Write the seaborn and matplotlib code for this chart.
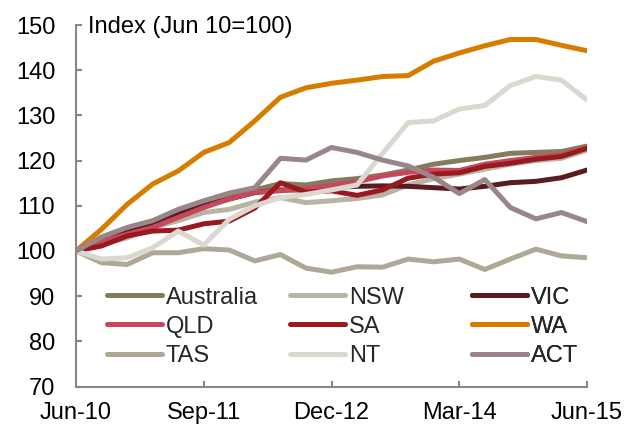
import pandas as pd
import matplotlib
matplotlib.use('Agg')
import matplotlib.pyplot as plt
import seaborn as sns

# Quarterly index values, Jun-10 = 100
quarters = ['Jun-10', 'Sep-10', 'Dec-10', 'Mar-11', 'Jun-11', 'Sep-11', 'Dec-11',
            'Mar-12', 'Jun-12', 'Sep-12', 'Dec-12', 'Mar-13', 'Jun-13', 'Sep-13',
            'Dec-13', 'Mar-14', 'Jun-14', 'Sep-14', 'Dec-14', 'Mar-15', 'Jun-15']
tick_labels = ['Jun-10', 'Sep-11', 'Dec-12', 'Mar-14', 'Jun-15']

australia = [100, 102.6, 104.4, 106.3, 108.5, 110.3, 111.8, 113.5, 114.9, 114.6, 115.5,
             116.0, 116.8, 117.9, 119.2, 120.0, 120.7, 121.6, 121.8, 122.0, 123.2]
nsw = [100, 101.5, 102.9, 105.2, 106.7, 108.5, 109.2, 110.8, 111.8, 110.7, 111.1,
       111.6, 112.4, 114.6, 116.0, 117.0, 118.1, 119.2, 120.0, 120.5, 122.3]
vic = [100, 102.2, 104.1, 105.9, 108.1, 110.0, 111.5, 112.9, 113.5, 113.5, 114.0,
       114.3, 114.4, 114.3, 114.0, 113.7, 114.3, 115.1, 115.4, 116.2, 117.9]
qld = [100, 102.1, 103.7, 105.2, 107.4, 109.6, 111.5, 113.0, 113.3, 113.8, 114.5,
       115.3, 116.6, 117.4, 117.9, 117.8, 119.2, 120.0, 120.7, 121.2, 122.9]
sa = [100, 101.1, 103.3, 104.4, 104.6, 106.0, 106.6, 109.5, 115.1, 113.0, 113.3,
      112.3, 113.5, 116.1, 117.0, 117.3, 118.7, 119.4, 120.3, 120.9, 122.7]
wa = [100, 104.8, 110.3, 114.8, 117.7, 121.8, 124.0, 128.8, 134.0, 136.1, 137.1,
      137.8, 138.6, 138.8, 142.0, 143.8, 145.4, 146.8, 146.8, 145.5, 144.3]
tas = [100, 97.4, 97.0, 99.6, 99.6, 100.5, 100.2, 97.8, 99.2, 96.2, 95.3,
       96.5, 96.4, 98.2, 97.6, 98.2, 95.9, 98.2, 100.4, 98.9, 98.5]
nt = [100, 98.2, 98.5, 100.7, 104.4, 101.3, 107.0, 110.0, 111.8, 112.5, 113.5,
      114.6, 121.6, 128.4, 128.8, 131.4, 132.2, 136.6, 138.6, 137.8, 133.4]
act = [100, 103.1, 105.2, 106.7, 109.2, 111.1, 112.8, 114.0, 120.5, 120.1, 122.9,
       121.8, 120.1, 118.8, 116.3, 112.7, 115.8, 109.6, 107.1, 108.5, 106.5]

regions = ['Australia', 'NSW', 'VIC', 'QLD', 'SA', 'WA', 'TAS', 'NT', 'ACT']
series = [australia, nsw, vic, qld, sa, wa, tas, nt, act]
colors = ['#857B5E', '#B8B5A6', '#5A1C1D', '#C7485C', '#981A1F', '#D67D00',
          '#ADA996', '#DBD8D0', '#9A8588']

# long format for seaborn
rows = []
for name, vals in zip(regions, series):
    for i, v in enumerate(vals):
        rows.append({'q': i, 'region': name, 'value': v})
df = pd.DataFrame(rows)

sns.set_theme(style='white')
plt.rcParams['font.family'] = ['Liberation Sans', 'DejaVu Sans']
fs = 17

fig = plt.figure(figsize=(6.24, 4.25), dpi=100)
ax = fig.add_axes([76 / 624, 1 - 386.5 / 425, 511 / 624, 361.5 / 425])

sns.lineplot(data=df, x='q', y='value', hue='region', hue_order=regions,
             palette=dict(zip(regions, colors)), linewidth=3.6, legend=False,
             ax=ax, sort=False)

ax.set_xlim(0, len(quarters) - 1)
ax.set_ylim(70, 150)
ax.set_xticks([quarters.index(t) for t in tick_labels])
ax.set_xticklabels(tick_labels)
ax.set_yticks(range(70, 151, 10))
ax.set_xlabel('')
ax.set_ylabel('')

# gray axes, inward ticks
for side in ['top', 'right']:
    ax.spines[side].set_visible(False)
for side in ['left', 'bottom']:
    ax.spines[side].set_color('#878787')
    ax.spines[side].set_linewidth(1.5)
ax.tick_params(axis='both', direction='in', length=4.5, width=1.5, color='#878787',
               labelsize=fs, labelcolor='black')
ax.tick_params(axis='y', pad=15, left=True)
ax.tick_params(axis='x', pad=11, bottom=True)

ax.text(12 / 511, (386.5 - 27) / 361.5, 'Index (Jun 10=100)', transform=ax.transAxes,
        fontsize=fs, va='center', ha='left', color='black')

# legend laid out in three equal columns like the original
lines = ax.get_lines()
col_x = [106.7, 290, 471.7]
for c in range(3):
    idx = [c, c + 3, c + 6]
    leg = ax.legend([lines[i] for i in idx], [regions[i] for i in idx],
                    loc='center left', bbox_to_anchor=(col_x[c] / 624, 1 - 326.7 / 425),
                    bbox_transform=fig.transFigure, frameon=False, fontsize=fs,
                    handlelength=2.35, handletextpad=0.15, labelspacing=0.3,
                    borderpad=0, borderaxespad=0)
    ax.add_artist(leg)

fig.savefig('out.png', dpi=100)
